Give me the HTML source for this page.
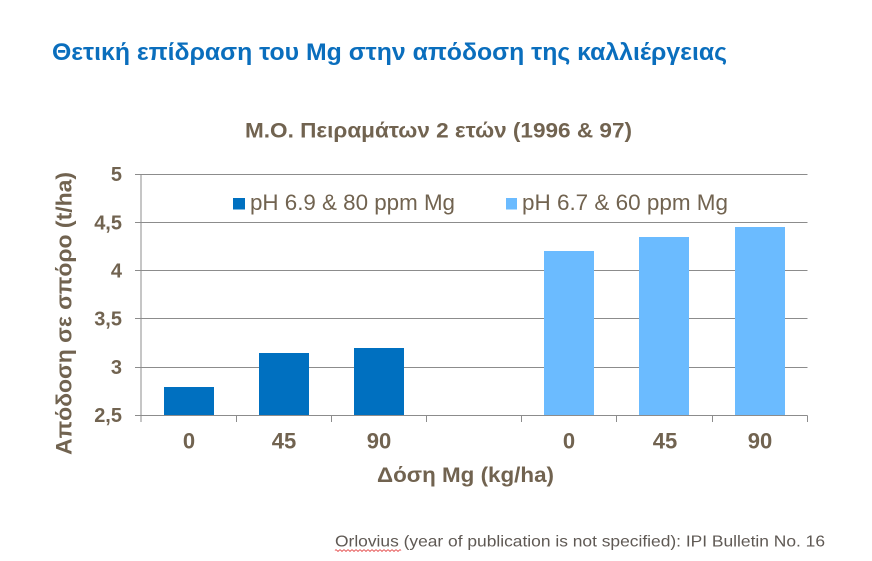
<!DOCTYPE html>
<html>
<head>
<meta charset="utf-8">
<style>
  html,body{margin:0;padding:0;background:#fff;}
  svg{display:block;}
  text{font-family:"Liberation Sans","DejaVu Sans",sans-serif;}
</style>
</head>
<body>
<svg width="872" height="561" viewBox="0 0 872 561" xmlns="http://www.w3.org/2000/svg">
  <rect x="0" y="0" width="872" height="561" fill="#ffffff"/>

  <!-- Slide title -->
  <text x="52" y="60" font-size="24" font-weight="bold" fill="#0A6EBD" textLength="675" lengthAdjust="spacingAndGlyphs">Θετική επίδραση του Mg στην απόδοση της καλλιέργειας</text>

  <!-- Chart title -->
  <text x="245" y="137.3" font-size="21" font-weight="bold" fill="#716350" textLength="387" lengthAdjust="spacingAndGlyphs">Μ.Ο. Πειραμάτων 2 ετών (1996 &amp; 97)</text>

  <!-- Gridlines -->
  <g stroke="#8c8c8c" stroke-width="1">
    <line x1="135" y1="174.5" x2="807.5" y2="174.5"/>
    <line x1="135" y1="222.5" x2="807.5" y2="222.5"/>
    <line x1="135" y1="270.5" x2="807.5" y2="270.5"/>
    <line x1="135" y1="318.5" x2="807.5" y2="318.5"/>
    <line x1="135" y1="367.5" x2="807.5" y2="367.5"/>
    <!-- y axis -->
    <line x1="141" y1="174.5" x2="141" y2="415.5"/>
  </g>

  <!-- Bars series 1 -->
  <g fill="#0070C0">
    <rect x="164" y="387" width="50" height="28.5"/>
    <rect x="259" y="353" width="50" height="62.5"/>
    <rect x="354" y="348" width="50" height="67.5"/>
  </g>
  <!-- Bars series 2 -->
  <g fill="#6BBBFF">
    <rect x="544" y="251" width="50" height="164.5"/>
    <rect x="639" y="237" width="50" height="178.5"/>
    <rect x="735" y="227" width="50" height="188.5"/>
  </g>

  <!-- X axis + ticks -->
  <g stroke="#8c8c8c" stroke-width="1">
    <line x1="135" y1="415.5" x2="807.5" y2="415.5"/>
    <line x1="141" y1="415.5" x2="141" y2="422"/>
    <line x1="236.5" y1="415.5" x2="236.5" y2="422"/>
    <line x1="331.5" y1="415.5" x2="331.5" y2="422"/>
    <line x1="426.5" y1="415.5" x2="426.5" y2="422"/>
    <line x1="521.5" y1="415.5" x2="521.5" y2="422"/>
    <line x1="616.5" y1="415.5" x2="616.5" y2="422"/>
    <line x1="712.5" y1="415.5" x2="712.5" y2="422"/>
    <line x1="807.5" y1="415.5" x2="807.5" y2="422"/>
  </g>

  <!-- Y tick labels -->
  <g font-size="20" font-weight="bold" fill="#716350" text-anchor="end">
    <text x="122" y="181">5</text>
    <text x="122" y="229.3">4,5</text>
    <text x="122" y="277.5">4</text>
    <text x="122" y="325.7">3,5</text>
    <text x="122" y="374">3</text>
    <text x="122" y="422">2,5</text>
  </g>

  <!-- X tick labels -->
  <g font-size="22" font-weight="bold" fill="#716350" text-anchor="middle">
    <text x="189" y="448.7">0</text>
    <text x="284" y="448.7">45</text>
    <text x="379" y="448.7">90</text>
    <text x="569" y="448.7">0</text>
    <text x="665" y="448.7">45</text>
    <text x="760" y="448.7">90</text>
  </g>

  <!-- Axis titles -->
  <text x="377" y="482" font-size="21" font-weight="bold" fill="#716350" textLength="177" lengthAdjust="spacingAndGlyphs">Δόση Mg (kg/ha)</text>
  <text transform="translate(71.5,313.5) rotate(-90)" x="0" y="0" font-size="22" font-weight="bold" fill="#716350" text-anchor="middle" textLength="283" lengthAdjust="spacingAndGlyphs">Απόδοση σε σπόρο (t/ha)</text>

  <!-- Legend -->
  <rect x="233" y="198" width="12" height="11.5" fill="#0070C0"/>
  <text x="250" y="210" font-size="22" fill="#716350" textLength="205" lengthAdjust="spacingAndGlyphs">pH 6.9 &amp; 80 ppm Mg</text>
  <rect x="506" y="198" width="11" height="11.5" fill="#6BBBFF"/>
  <text x="522" y="210" font-size="22" fill="#716350" textLength="206" lengthAdjust="spacingAndGlyphs">pH 6.7 &amp; 60 ppm Mg</text>

  <!-- Footer -->
  <text x="335" y="546.5" font-size="16" fill="#5f5954" textLength="490" lengthAdjust="spacingAndGlyphs">Orlovius (year of publication is not specified): IPI Bulletin No. 16</text>
  <path d="M335 550.5 q1 -1.5 2 0 t2 0 t2 0 t2 0 t2 0 t2 0 t2 0 t2 0 t2 0 t2 0 t2 0 t2 0 t2 0 t2 0 t2 0 t2 0 t2 0 t2 0 t2 0 t2 0 t2 0 t2 0 t2 0 t2 0 t2 0 t2 0 t2 0 t2 0 t2 0 t2 0 t2 0 t2 0 t2 0" fill="none" stroke="#e03030" stroke-width="0.8"/>
</svg>
</body>
</html>
